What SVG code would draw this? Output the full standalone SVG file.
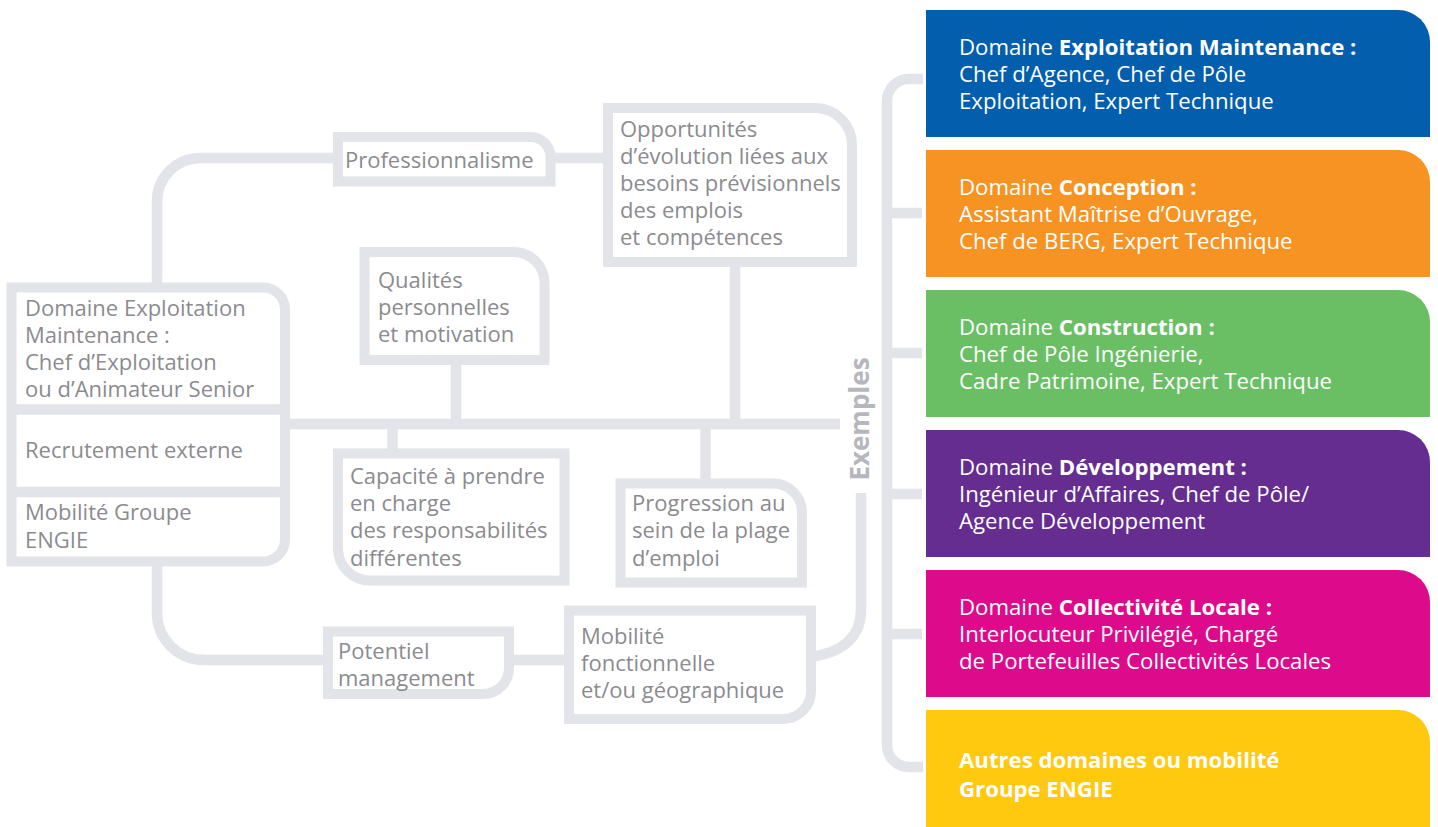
<svg xmlns="http://www.w3.org/2000/svg" width="1438" height="827" viewBox="0 0 1438 827">
<style>
.box{fill:#ffffff;stroke:#e3e3ea;stroke-width:10;}
.ln{fill:none;stroke:#e3e3ea;stroke-width:10.5;}
.g{font-family:"Open Sans","DejaVu Sans",sans-serif;font-size:22px;fill:#8b8b90;}
.w{font-family:"Open Sans","DejaVu Sans",sans-serif;font-size:22.2px;fill:#ffffff;}
.b{font-weight:bold;}
.ex{font-family:"Open Sans","DejaVu Sans",sans-serif;font-size:26px;font-weight:bold;fill:#b6b6be;}
</style>
<rect width="1438" height="827" fill="#ffffff"/>
<g id="connectors">
<path class="ln" d="M157,287 V201.5 A43.5,43.5 0 0 1 200.5,158 H338"/>
<path class="ln" d="M550,158 H608"/>
<path class="ln" d="M735,262 V424"/>
<path class="ln" d="M285,424 H840"/>
<path class="ln" d="M456,360 V424"/>
<path class="ln" d="M392.5,424 V453.5"/>
<path class="ln" d="M705.5,424 V483.5"/>
<path class="ln" d="M157,561 V613 A47,47 0 0 0 204,660 H328"/>
<path class="ln" d="M509,660 H569"/>
<path class="ln" d="M811,657 C845,652 861,635 861,610 V493"/>
<path class="ln" d="M923,79 H909 A22,22 0 0 0 887,101 V745 A22,22 0 0 0 909,767 H923"/>
<path class="ln" d="M887,213 H922 M887,353 H922 M887,494 H922 M887,634 H922"/>
</g>
<g id="source">
<path class="box" d="M11.5,287.5 H263 A22,22 0 0 1 285,309.5 V539.5 A22,22 0 0 1 263,561.5 H11.5 Z"/>
<path class="ln" d="M11.5,409.5 H285 M11.5,492 H285"/>
<text class="g" x="25" y="316">Domaine Exploitation</text>
<text class="g" x="25" y="343">Maintenance :</text>
<text class="g" x="25" y="370">Chef d’Exploitation</text>
<text class="g" x="25" y="397">ou d’Animateur Senior</text>
<text class="g" x="25" y="458">Recrutement externe</text>
<text class="g" x="25" y="520">Mobilité Groupe</text>
<text class="g" x="25" y="548">ENGIE</text>
</g>
<g id="professionnalisme">
<path class="box" d="M338,137 H530.5 A20,20 0 0 1 550.5,157 V181.5 H338 Z"/>
<text class="g" x="345" y="168">Professionnalisme</text>
</g>
<g id="opportunites">
<path class="box" d="M608,108 H815 A37,37 0 0 1 852,145 V262 H608 Z"/>
<text class="g" x="620" y="137">Opportunités</text>
<text class="g" x="620" y="164">d’évolution liées aux</text>
<text class="g" x="620" y="191">besoins prévisionnels</text>
<text class="g" x="620" y="218">des emplois</text>
<text class="g" x="620" y="245">et compétences</text>
</g>
<g id="qualites">
<path class="box" d="M364.5,252 H513.5 A31,31 0 0 1 544.5,283 V360 H364.5 Z"/>
<text class="g" x="378" y="288">Qualités</text>
<text class="g" x="378" y="315">personnelles</text>
<text class="g" x="378" y="342">et motivation</text>
</g>
<g id="capacite">
<path class="box" d="M338,453.5 H564.5 V580.5 H370 A32,32 0 0 1 338,548.5 Z"/>
<text class="g" x="350" y="484">Capacité à prendre</text>
<text class="g" x="350" y="511">en charge</text>
<text class="g" x="350" y="538">des responsabilités</text>
<text class="g" x="350" y="566">différentes</text>
</g>
<g id="progression">
<path class="box" d="M620.5,483.5 H773 A29,29 0 0 1 802,512.5 V582.5 H620.5 Z"/>
<text class="g" x="632" y="511">Progression au</text>
<text class="g" x="632" y="538">sein de la plage</text>
<text class="g" x="632" y="566">d’emploi</text>
</g>
<g id="potentiel">
<path class="box" d="M328,631.5 H509 V668 A26,26 0 0 1 483,694 H328 Z"/>
<text class="g" x="338" y="659">Potentiel</text>
<text class="g" x="338" y="686">management</text>
</g>
<g id="mobilite">
<path class="box" d="M569,610.5 H811 V691 A28,28 0 0 1 783,719 H569 Z"/>
<text class="g" x="581" y="644">Mobilité</text>
<text class="g" x="581" y="671">fonctionnelle</text>
<text class="g" x="581" y="698">et/ou géographique</text>
</g>
<g id="exemples">
<text class="ex" x="869" y="419" text-anchor="middle" transform="rotate(-90 869 419)">Exemples</text>
</g>
<g id="d-exploitation">
<path d="M926,10 H1398 A32,32 0 0 1 1430,42 V137 H926 Z" fill="#045eae"/>
<text class="w" x="959" y="55">Domaine <tspan class="b">Exploitation Maintenance :</tspan></text>
<text class="w" x="959" y="82">Chef d’Agence, Chef de Pôle</text>
<text class="w" x="959" y="109">Exploitation, Expert Technique</text>
</g>
<g id="d-conception">
<path d="M926,150 H1398 A32,32 0 0 1 1430,182 V277 H926 Z" fill="#f69322"/>
<text class="w" x="959" y="195">Domaine <tspan class="b">Conception :</tspan></text>
<text class="w" x="959" y="222">Assistant Maîtrise d’Ouvrage,</text>
<text class="w" x="959" y="249">Chef de BERG, Expert Technique</text>
</g>
<g id="d-construction">
<path d="M926,290 H1398 A32,32 0 0 1 1430,322 V417 H926 Z" fill="#6abf65"/>
<text class="w" x="959" y="335">Domaine <tspan class="b">Construction :</tspan></text>
<text class="w" x="959" y="362">Chef de Pôle Ingénierie,</text>
<text class="w" x="959" y="389">Cadre Patrimoine, Expert Technique</text>
</g>
<g id="d-developpement">
<path d="M926,430 H1398 A32,32 0 0 1 1430,462 V557 H926 Z" fill="#652d90"/>
<text class="w" x="959" y="475">Domaine <tspan class="b">Développement :</tspan></text>
<text class="w" x="959" y="502">Ingénieur d’Affaires, Chef de Pôle/</text>
<text class="w" x="959" y="529">Agence Développement</text>
</g>
<g id="d-collectivite">
<path d="M926,570 H1398 A32,32 0 0 1 1430,602 V697 H926 Z" fill="#dd0b8c"/>
<text class="w" x="959" y="615">Domaine <tspan class="b">Collectivité Locale :</tspan></text>
<text class="w" x="959" y="642">Interlocuteur Privilégié, Chargé</text>
<text class="w" x="959" y="669">de Portefeuilles Collectivités Locales</text>
</g>
<g id="d-autres">
<path d="M926,710 H1398 A32,32 0 0 1 1430,742 V827 H926 Z" fill="#fec90e"/>
<text class="w b" x="959" y="768">Autres domaines ou mobilité</text>
<text class="w b" x="959" y="797">Groupe ENGIE</text>
</g>
</svg>
